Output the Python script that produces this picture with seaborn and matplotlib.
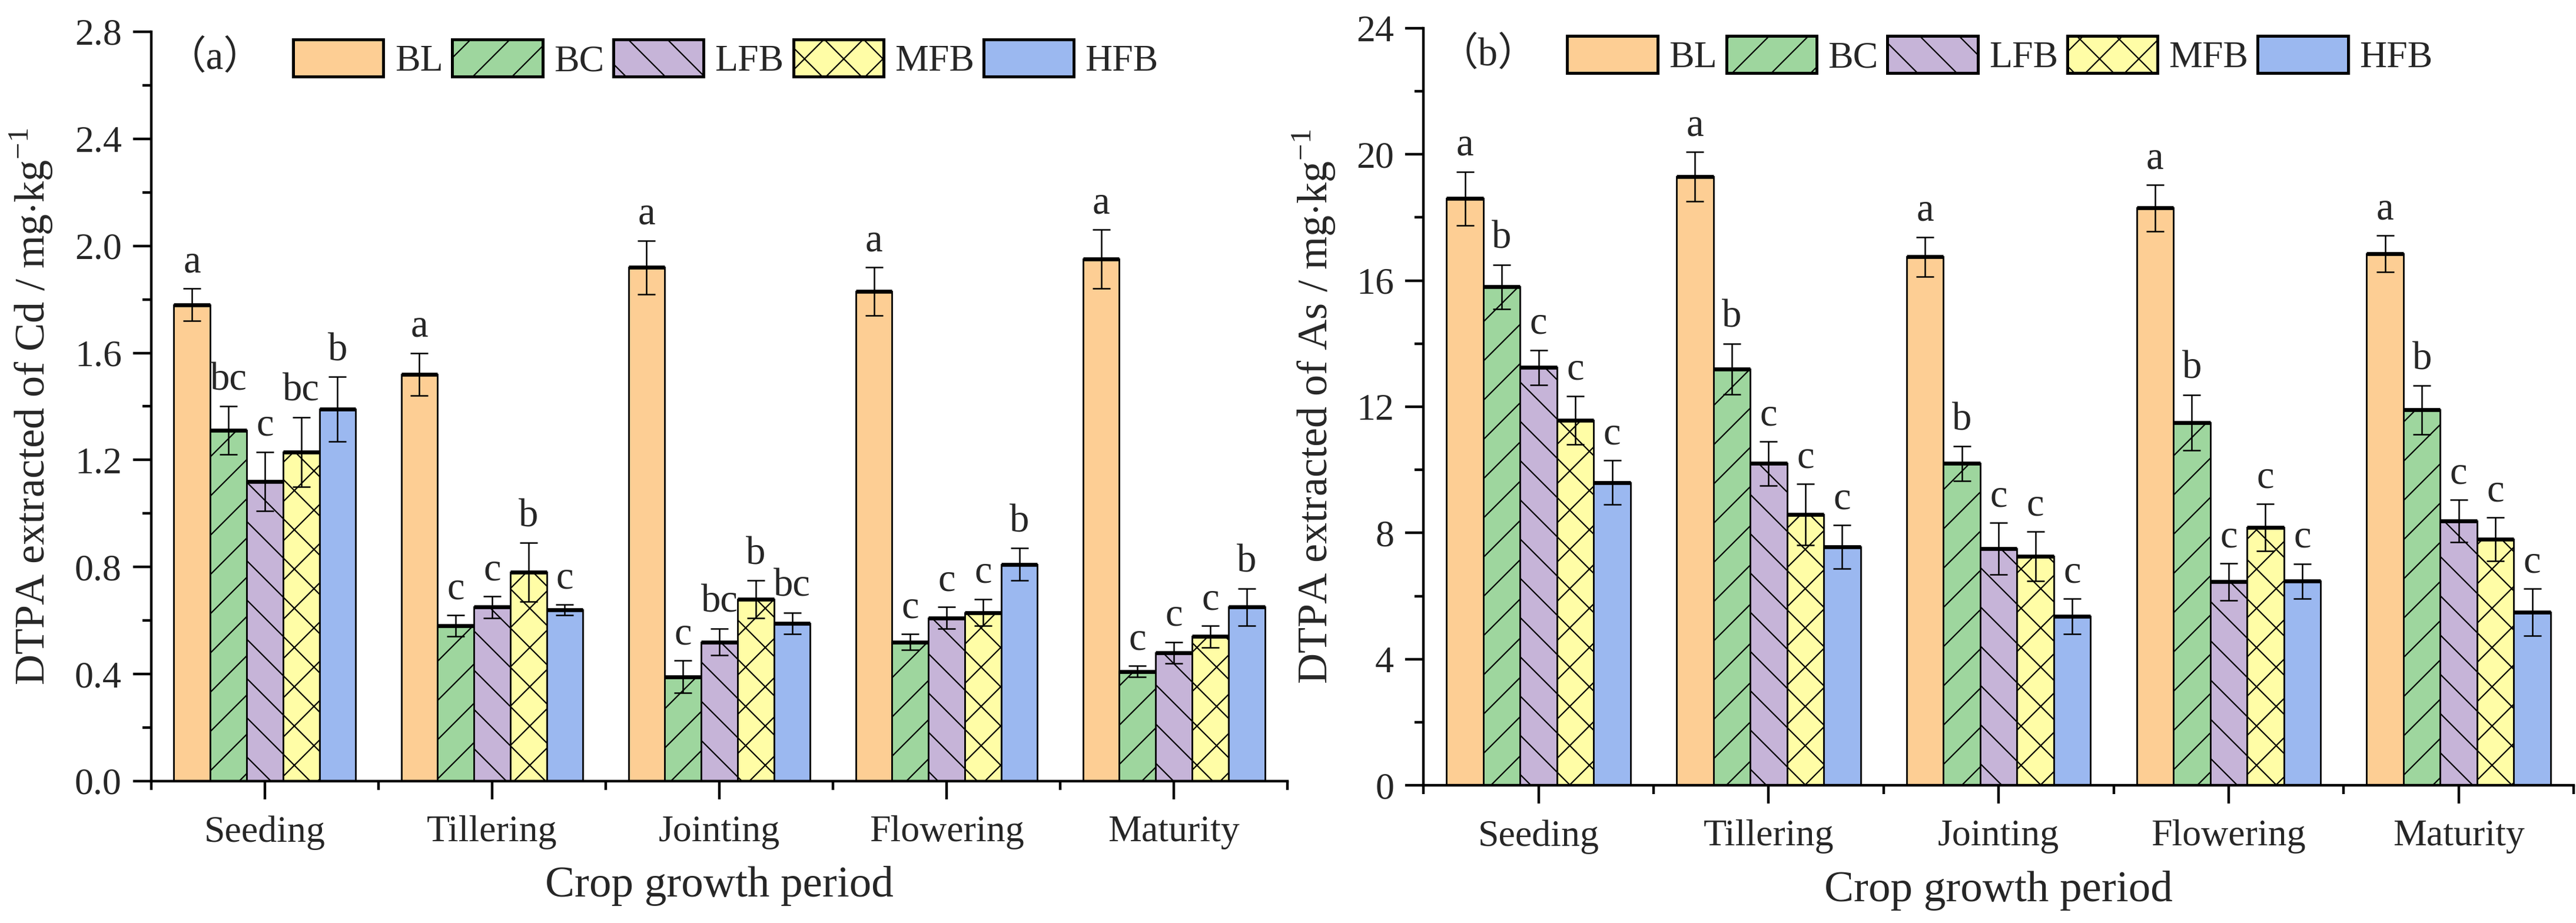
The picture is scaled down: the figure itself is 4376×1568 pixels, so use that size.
import numpy as np
import pandas as pd
import matplotlib
matplotlib.use('Agg')
import matplotlib.pyplot as plt
import seaborn as sns
from matplotlib.ticker import MultipleLocator, FixedLocator

periods = ['Seeding', 'Tillering', 'Jointing', 'Flowering', 'Maturity']
treatments = ['BL', 'BC', 'LFB', 'MFB', 'HFB']
colors = ['#FDCE94', '#9ED69E', '#C6B4D8', '#FFFDA6', '#9BB8F0']
hatches = ['', '/', '\\', 'x', '']

# Cd (panel a)
cd_bl = [1.78, 1.52, 1.92, 1.83, 1.95]
cd_bc = [1.31, 0.58, 0.39, 0.52, 0.41]
cd_lfb = [1.12, 0.65, 0.52, 0.61, 0.48]
cd_mfb = [1.23, 0.78, 0.68, 0.63, 0.54]
cd_hfb = [1.39, 0.64, 0.59, 0.81, 0.65]
cd_err_bl = [0.06, 0.08, 0.10, 0.09, 0.11]
cd_err_bc = [0.09, 0.04, 0.06, 0.03, 0.02]
cd_err_lfb = [0.11, 0.04, 0.05, 0.04, 0.04]
cd_err_mfb = [0.13, 0.11, 0.07, 0.05, 0.04]
cd_err_hfb = [0.12, 0.02, 0.04, 0.06, 0.07]
cd_let_bl = ['a', 'a', 'a', 'a', 'a']
cd_let_bc = ['bc', 'c', 'c', 'c', 'c']
cd_let_lfb = ['c', 'c', 'bc', 'c', 'c']
cd_let_mfb = ['bc', 'b', 'b', 'c', 'c']
cd_let_hfb = ['b', 'c', 'bc', 'b', 'b']

# As (panel b)
as_bl = [18.6, 19.3, 16.75, 18.3, 16.85]
as_bc = [15.8, 13.2, 10.2, 11.5, 11.9]
as_lfb = [13.25, 10.2, 7.5, 6.45, 8.38]
as_mfb = [11.57, 8.58, 7.26, 8.17, 7.8]
as_hfb = [9.6, 7.56, 5.35, 6.47, 5.49]
as_err_bl = [0.85, 0.78, 0.63, 0.73, 0.58]
as_err_bc = [0.70, 0.80, 0.55, 0.88, 0.77]
as_err_lfb = [0.55, 0.70, 0.82, 0.58, 0.67]
as_err_mfb = [0.77, 0.97, 0.78, 0.75, 0.69]
as_err_hfb = [0.70, 0.69, 0.56, 0.55, 0.74]
as_let_bl = ['a'] * 5
as_let_bc = ['b'] * 5
as_let_lfb = ['c'] * 5
as_let_mfb = ['c'] * 5
as_let_hfb = ['c'] * 5

sns.set_theme(style='white')
plt.rcParams['font.family'] = ['Liberation Serif', 'Noto Sans CJK SC', 'DejaVu Sans']
plt.rcParams['mathtext.fontset'] = 'custom'
plt.rcParams['mathtext.rm'] = 'Liberation Serif'
plt.rcParams['hatch.linewidth'] = 0.8
plt.rcParams['hatch.color'] = 'black'


def make_df(vals, errs, lets):
    rows = []
    for t, v, e, l in zip(treatments, vals, errs, lets):
        for p, vv, ee, ll in zip(periods, v, e, l):
            rows.append({'Period': p, 'Treatment': t, 'Value': vv, 'Err': ee, 'Letter': ll})
    return pd.DataFrame(rows)


df_cd = make_df([cd_bl, cd_bc, cd_lfb, cd_mfb, cd_hfb],
                [cd_err_bl, cd_err_bc, cd_err_lfb, cd_err_mfb, cd_err_hfb],
                [cd_let_bl, cd_let_bc, cd_let_lfb, cd_let_mfb, cd_let_hfb])
df_as = make_df([as_bl, as_bc, as_lfb, as_mfb, as_hfb],
                [as_err_bl, as_err_bc, as_err_lfb, as_err_mfb, as_err_hfb],
                [as_let_bl, as_let_bc, as_let_lfb, as_let_mfb, as_let_hfb])


def draw(ax, df, ymax, ymaj, fmt, ylabel, tag, leg_x, leg_y):
    sns.barplot(data=df, x='Period', y='Value', hue='Treatment', order=periods,
                hue_order=treatments, palette=colors, errorbar=None, width=0.8,
                saturation=1, edgecolor='black', linewidth=1.0, ax=ax)
    bars = list(ax.containers)
    for i, cont in enumerate(bars):
        sub = df[df.Treatment == treatments[i]].set_index('Period').loc[periods]
        xs = [b.get_x() + b.get_width() / 2 for b in cont.patches]
        hs = [b.get_height() for b in cont.patches]
        for b in cont.patches:
            b.set_hatch(hatches[i])
            ax.plot([b.get_x(), b.get_x() + b.get_width()], [b.get_height()] * 2,
                    color='black', lw=2.4, solid_capstyle='butt', zorder=3)
        ax.errorbar(xs, hs, yerr=sub['Err'].values, fmt='none', ecolor='black',
                    elinewidth=0.9, capsize=5.5, capthick=0.9, zorder=4)
        for x, h, e, l in zip(xs, hs, sub['Err'].values, sub['Letter'].values):
            ax.annotate(l, (x, h + e), xytext=(0, 5), textcoords='offset points',
                        ha='center', va='bottom', fontsize=24)
    ax.set_xlim(-0.5, 4.5)
    ax.set_ylim(0, ymax)
    ax.yaxis.set_major_locator(MultipleLocator(ymaj))
    ax.yaxis.set_minor_locator(MultipleLocator(ymaj / 2))
    ax.yaxis.set_major_formatter(plt.FormatStrFormatter(fmt))
    ax.xaxis.set_minor_locator(FixedLocator(np.arange(-0.5, 5, 1.0)))
    for s in ['top', 'right']:
        ax.spines[s].set_visible(False)
    for s in ['left', 'bottom']:
        ax.spines[s].set_linewidth(1.6)
        ax.spines[s].set_color('black')
    ax.tick_params(axis='both', which='major', direction='out', length=11, width=1.6,
                   labelsize=23, color='black', bottom=True, left=True)
    ax.tick_params(axis='both', which='minor', direction='out', length=5.5, width=1.6,
                   color='black', bottom=True, left=True)
    ax.tick_params(axis='x', which='major', pad=10)
    ax.tick_params(axis='y', which='major', pad=7)
    ax.set_xlabel('Crop growth period', fontsize=27)
    ax.set_ylabel(ylabel, fontsize=26)
    ax.xaxis.set_label_coords(0.5, -0.113)
    ax.text(0.056, 0.965, tag, transform=ax.transAxes, fontsize=24,
            ha='center', va='center')
    handles, labels = ax.get_legend_handles_labels()
    for h, hc in zip(handles, hatches):
        h.set_hatch(hc)
        h.set_linewidth(1.8)
    ax.legend(handles, labels, ncol=5, frameon=False, fontsize=23,
              loc='upper left', bbox_to_anchor=(leg_x, leg_y), borderaxespad=0,
              borderpad=0, handlelength=2.4, handleheight=1.15,
              handletextpad=0.3, columnspacing=0.25)


fig = plt.figure(figsize=(21.88, 7.84), dpi=200)
ax1 = fig.add_axes([0.0587, 0.1537, 0.4411, 0.8119])
ax2 = fig.add_axes([0.5526, 0.1492, 0.4465, 0.8202])

draw(ax1, df_cd, 2.8, 0.4, '%.1f', r'DTPA extracted of Cd / mg$\cdot$kg$^{-1}$', '（a）', 0.125, 0.99)
draw(ax2, df_as, 24, 4, '%d', r'DTPA extracted of As / mg$\cdot$kg$^{-1}$', '（b）', 0.125, 0.99)
ax1.yaxis.set_label_coords(-0.085, 0.5)
ax2.yaxis.set_label_coords(-0.075, 0.5)

fig.savefig('out.png', dpi=200, facecolor='white')
